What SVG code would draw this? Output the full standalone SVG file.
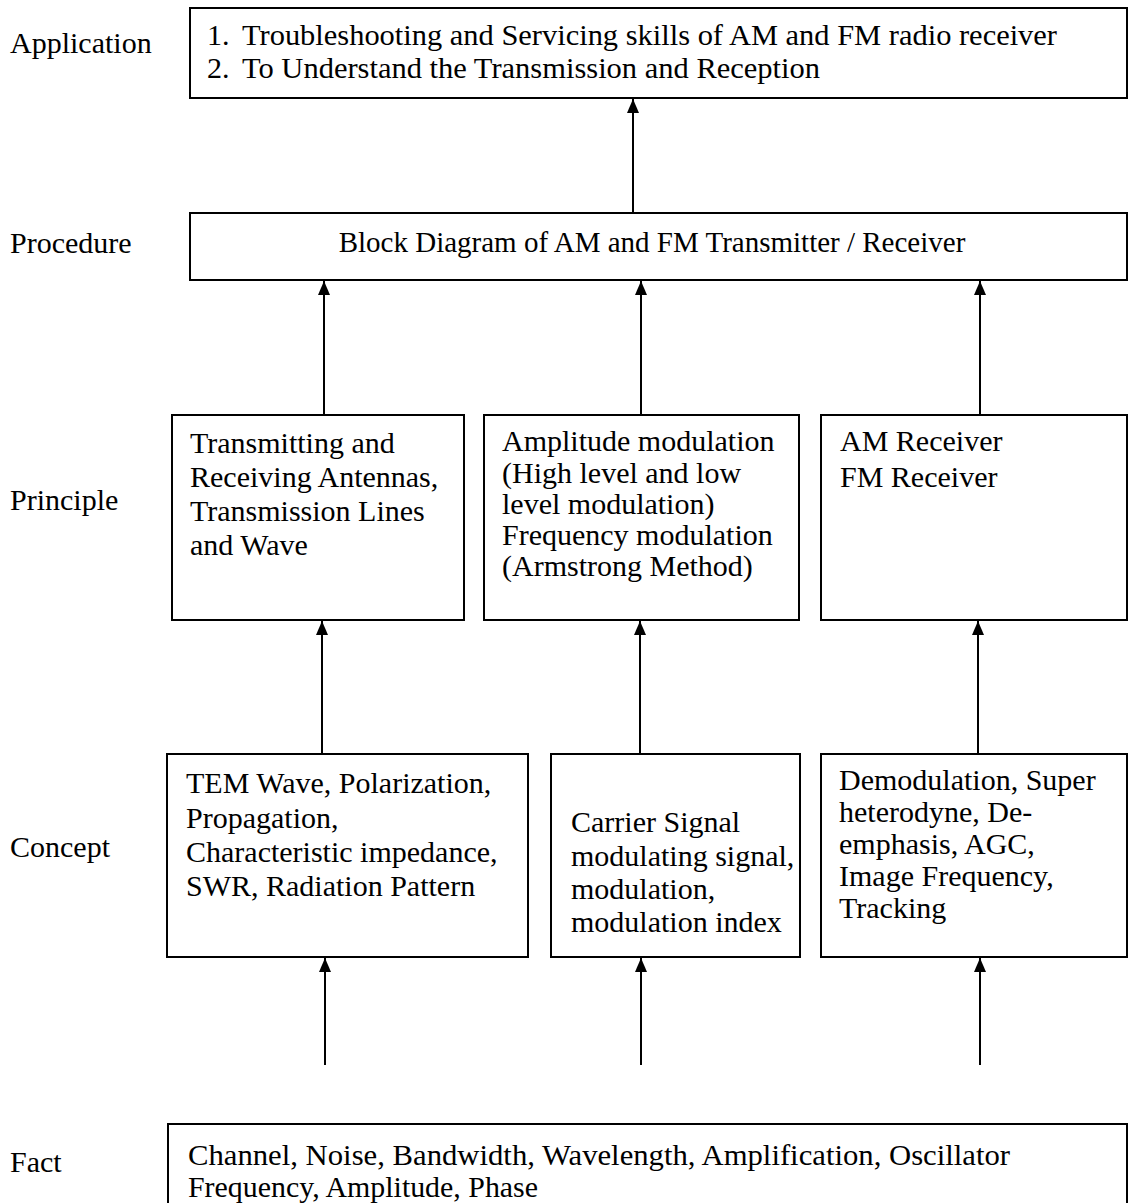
<svg xmlns="http://www.w3.org/2000/svg" width="1128" height="1203" viewBox="0 0 1128 1203">
<defs>
<marker id="ah" viewBox="0 0 14 12" refX="14" refY="6" markerWidth="14" markerHeight="12" markerUnits="userSpaceOnUse" orient="auto">
<path d="M0,0 L14,6 L0,12 Z" fill="#000"/>
</marker>
<style>
text{font-family:"Liberation Serif","Times New Roman",serif;font-size:30px;fill:#000}
.box{fill:#fff;stroke:#000;stroke-width:2}
.conn line{stroke:#000;stroke-width:2}
</style>
</defs>
<rect width="1128" height="1203" fill="#fff"/>
<g id="labels">
<text x="10" y="53">Application</text>
<text x="10" y="253">Procedure</text>
<text x="10" y="510">Principle</text>
<text x="10" y="857">Concept</text>
<text x="10" y="1172">Fact</text>
</g>
<g id="application">
<rect class="box" x="190" y="8" width="937" height="90"/>
<text x="207" y="45">1.</text><text x="242" y="45" textLength="815" lengthAdjust="spacingAndGlyphs">Troubleshooting and Servicing skills of AM and FM radio receiver</text>
<text x="207" y="78">2.</text><text x="242" y="78" textLength="578" lengthAdjust="spacingAndGlyphs">To Understand the Transmission and Reception</text>
</g>
<g id="procedure">
<rect class="box" x="190" y="213" width="937" height="67"/>
<text x="652" y="252" text-anchor="middle" style="font-size:29px">Block Diagram of AM and FM Transmitter / Receiver</text>
</g>
<g id="principle1">
<rect class="box" x="172" y="415" width="292" height="205"/>
<text x="190" y="453">Transmitting and</text>
<text x="190" y="487">Receiving Antennas,</text>
<text x="190" y="521">Transmission Lines</text>
<text x="190" y="555">and Wave</text>
</g>
<g id="principle2">
<rect class="box" x="484" y="415" width="315" height="205"/>
<text x="502" y="451">Amplitude modulation</text>
<text x="502" y="483">(High level and low</text>
<text x="502" y="514">level modulation)</text>
<text x="502" y="545">Frequency modulation</text>
<text x="502" y="576">(Armstrong Method)</text>
</g>
<g id="principle3">
<rect class="box" x="821" y="415" width="306" height="205"/>
<text x="840" y="451">AM Receiver</text>
<text x="840" y="487">FM Receiver</text>
</g>
<g id="concept1">
<rect class="box" x="167" y="754" width="361" height="203"/>
<text x="186" y="793">TEM Wave, Polarization,</text>
<text x="186" y="828">Propagation,</text>
<text x="186" y="862">Characteristic impedance,</text>
<text x="186" y="896">SWR, Radiation Pattern</text>
</g>
<g id="concept2">
<rect class="box" x="551" y="754" width="249" height="203"/>
<text x="571" y="832">Carrier Signal</text>
<text x="571" y="866">modulating signal,</text>
<text x="571" y="899">modulation,</text>
<text x="571" y="932">modulation index</text>
</g>
<g id="concept3">
<rect class="box" x="821" y="754" width="306" height="203"/>
<text x="839" y="790">Demodulation, Super</text>
<text x="839" y="822">heterodyne, De-</text>
<text x="839" y="854">emphasis, AGC,</text>
<text x="839" y="886">Image Frequency,</text>
<text x="839" y="918">Tracking</text>
</g>
<g id="fact">
<rect class="box" x="168" y="1124" width="959" height="85"/>
<text x="188" y="1165" textLength="822" lengthAdjust="spacingAndGlyphs">Channel, Noise, Bandwidth, Wavelength, Amplification, Oscillator</text>
<text x="188" y="1197" textLength="350" lengthAdjust="spacingAndGlyphs">Frequency, Amplitude, Phase</text>
</g>
<g id="connectors" class="conn">
<line x1="633" y1="213" x2="633" y2="99" marker-end="url(#ah)"/>
<line x1="324" y1="415" x2="324" y2="281" marker-end="url(#ah)"/>
<line x1="641" y1="415" x2="641" y2="281" marker-end="url(#ah)"/>
<line x1="980" y1="415" x2="980" y2="281" marker-end="url(#ah)"/>
<line x1="322" y1="754" x2="322" y2="621" marker-end="url(#ah)"/>
<line x1="640" y1="754" x2="640" y2="621" marker-end="url(#ah)"/>
<line x1="978" y1="754" x2="978" y2="621" marker-end="url(#ah)"/>
<line x1="325" y1="1065" x2="325" y2="958" marker-end="url(#ah)"/>
<line x1="641" y1="1065" x2="641" y2="958" marker-end="url(#ah)"/>
<line x1="980" y1="1065" x2="980" y2="958" marker-end="url(#ah)"/>
</g>
</svg>
